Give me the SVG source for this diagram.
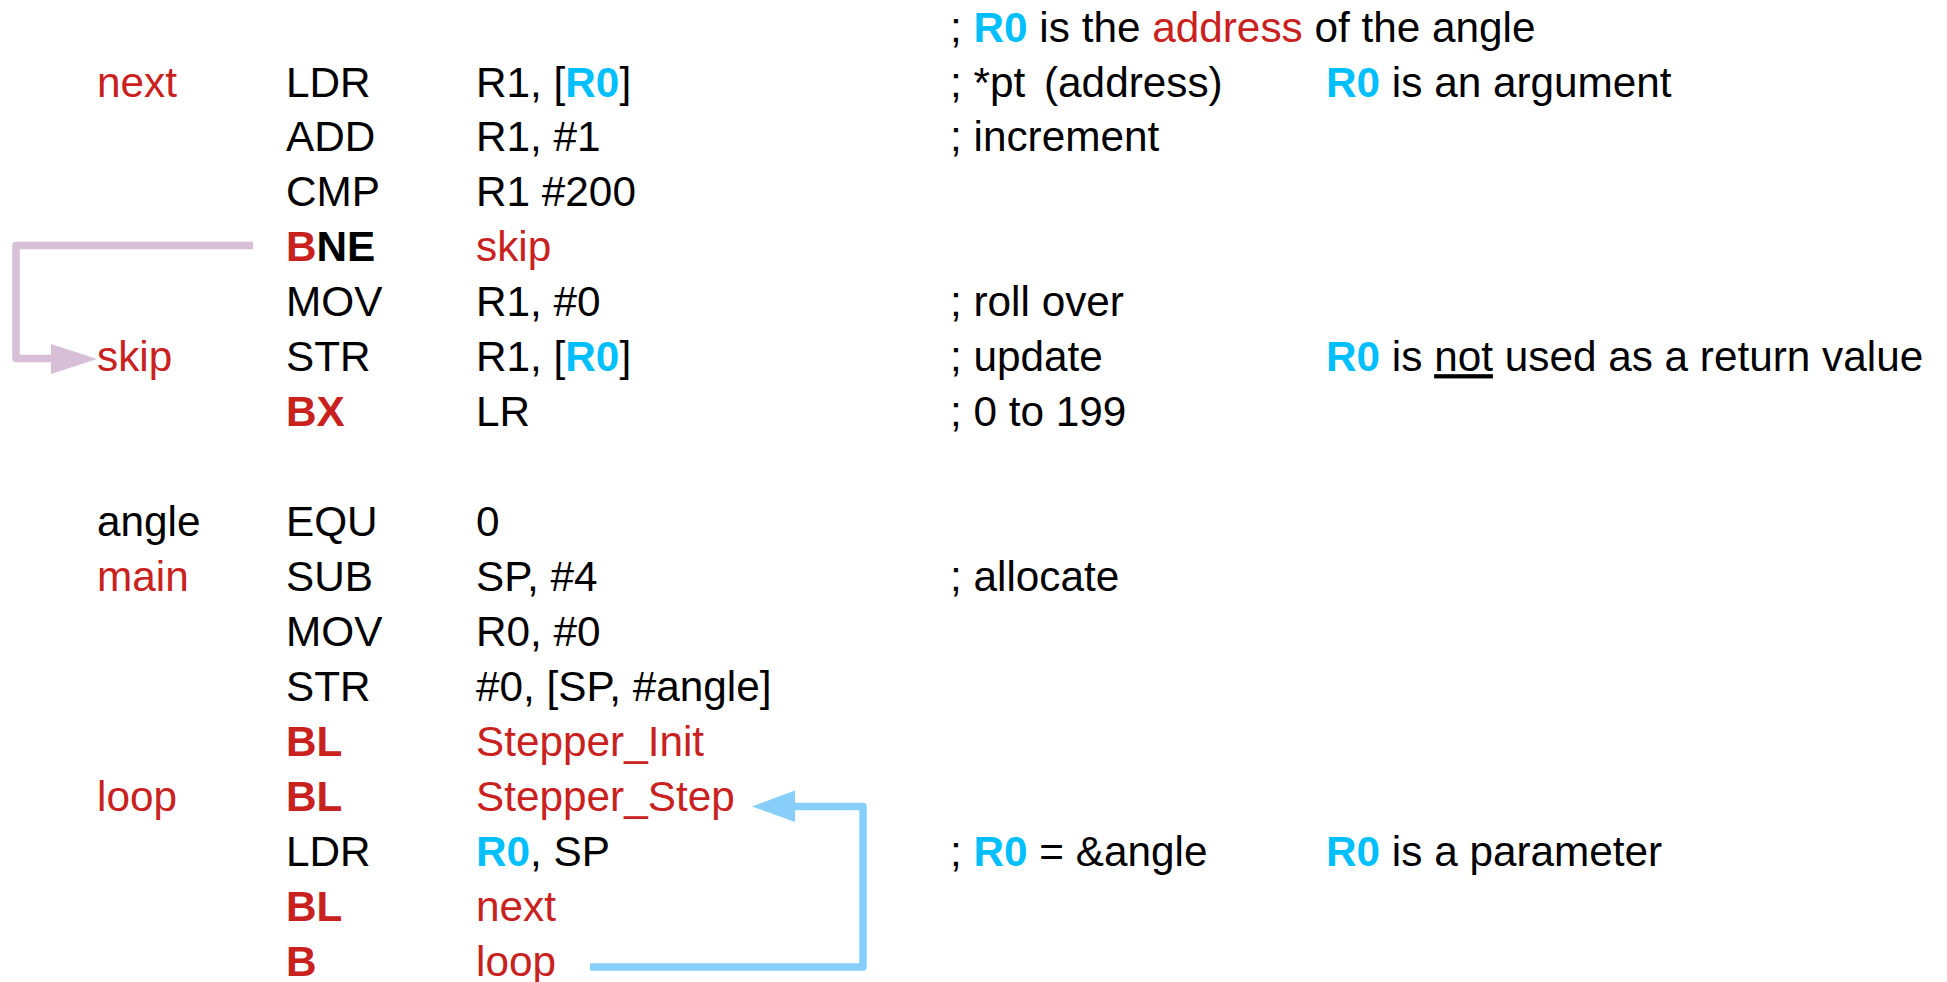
<svg xmlns="http://www.w3.org/2000/svg" width="1947" height="982" viewBox="0 0 1947 982">
<style>
text{font-family:"Liberation Sans",Arial,sans-serif;font-size:42.3px;fill:#000}
.r{fill:#c9211e}
.c{fill:#00bfff;font-weight:bold}
.b{font-weight:bold}
.conn{fill:none;stroke-width:7.5;stroke-linejoin:round}
.pink{stroke:#d8bfd8}
.blue{stroke:#87cefa}
.hp{fill:#d8bfd8}
.hb{fill:#87cefa}
</style>
<rect width="1947" height="982" fill="#fff"/>
<g id="connectors">
<path class="conn pink" d="M253,245.5 H16 V358.5 H53"/>
<path class="hp" d="M51,344 L97,359 L51,374 Z"/>
<path class="conn blue" d="M590,967 H863 V806.5 H793" stroke-width="8.5"/>
<path class="hb" d="M795,790.5 L752,806.5 L795,822 Z"/>
</g>
<g id="row0"><text x="950" y="41.5">; <tspan class="c">R0</tspan> is the <tspan class="r">address</tspan> of the angle</text></g>
<g id="row1">
<text x="97" y="96.5" class="r">next</text>
<text x="286" y="96.5">LDR</text>
<text x="476" y="96.5">R1, [<tspan class="c">R0</tspan>]</text>
<text x="950" y="96.5">; *pt<tspan x="1044">(address)</tspan></text>
<text x="1326" y="96.5"><tspan class="c">R0</tspan> is an argument</text>
</g>
<g id="row2">
<text x="286" y="151.4">ADD</text>
<text x="476" y="151.4">R1, #1</text>
<text x="950" y="151.4">; increment</text>
</g>
<g id="row3">
<text x="286" y="206.4">CMP</text>
<text x="476" y="206.4">R1 #200</text>
</g>
<g id="row4">
<text x="286" y="261.3" class="b"><tspan class="r">B</tspan>NE</text>
<text x="476" y="261.3" class="r">skip</text>
</g>
<g id="row5">
<text x="286" y="316.3">MOV</text>
<text x="476" y="316.3">R1, #0</text>
<text x="950" y="316.3">; roll over</text>
</g>
<g id="row6">
<text x="97" y="371.2" class="r">skip</text>
<text x="286" y="371.2">STR</text>
<text x="476" y="371.2">R1, [<tspan class="c">R0</tspan>]</text>
<text x="950" y="371.2">; update</text>
<text x="1326" y="371.2"><tspan class="c">R0</tspan> is <tspan text-decoration="underline">not</tspan> used as a return value</text>
</g>
<g id="row7">
<text x="286" y="426.2" class="r b">BX</text>
<text x="476" y="426.2">LR</text>
<text x="950" y="426.2">; 0 to 199</text>
</g>
<g id="row9">
<text x="97" y="536">angle</text>
<text x="286" y="536">EQU</text>
<text x="476" y="536">0</text>
</g>
<g id="row10">
<text x="97" y="591" class="r">main</text>
<text x="286" y="591">SUB</text>
<text x="476" y="591">SP, #4</text>
<text x="950" y="591">; allocate</text>
</g>
<g id="row11">
<text x="286" y="645.9">MOV</text>
<text x="476" y="645.9">R0, #0</text>
</g>
<g id="row12">
<text x="286" y="700.9">STR</text>
<text x="476" y="700.9">#0, [SP, #angle]</text>
</g>
<g id="row13">
<text x="286" y="755.8" class="r b">BL</text>
<text x="476" y="755.8" class="r">Stepper_Init</text>
</g>
<g id="row14">
<text x="97" y="810.8" class="r">loop</text>
<text x="286" y="810.8" class="r b">BL</text>
<text x="476" y="810.8" class="r">Stepper_Step</text>
</g>
<g id="row15">
<text x="286" y="865.7">LDR</text>
<text x="476" y="865.7"><tspan class="c">R0</tspan>, SP</text>
<text x="950" y="865.7">; <tspan class="c">R0</tspan> = &amp;angle</text>
<text x="1326" y="865.7"><tspan class="c">R0</tspan> is a parameter</text>
</g>
<g id="row16">
<text x="286" y="920.7" class="r b">BL</text>
<text x="476" y="920.7" class="r">next</text>
</g>
<g id="row17">
<text x="286" y="975.6" class="r b">B</text>
<text x="476" y="975.6" class="r">loop</text>
</g>
</svg>
